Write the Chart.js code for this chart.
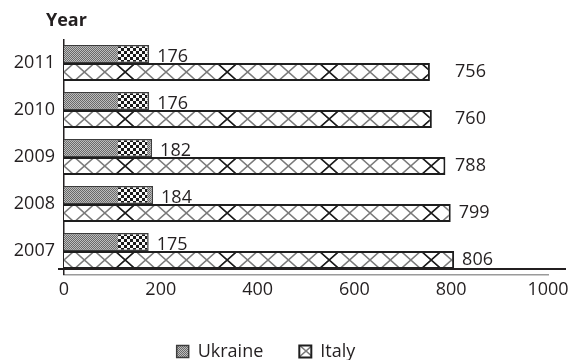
<!DOCTYPE html>
<html>
<head>
<meta charset="utf-8">
<script src="https://cdn.jsdelivr.net/npm/chart.js@4/dist/chart.umd.min.js"></script>
<style>
  html, body { margin: 0; padding: 0; background: #fff; }
  #wrap { width: 576px; height: 360px; }
</style>
</head>
<body>
<div id="wrap"><canvas id="c" width="576" height="360"></canvas></div>
<script>
// Production figures by year (top row first)
const years = ['2011', '2010', '2009', '2008', '2007'];
const ukraine = [176, 176, 182, 184, 175];
const italy = [756, 760, 788, 799, 806];
const xTicks = [0, 200, 400, 600, 800, 1000];
const seriesNames = ['Ukraine', 'Italy'];
const axisTitle = 'Year';

const INK = '#231f20';
const FONT = "'Open Sans', 'Noto Sans', sans-serif";
Chart.defaults.font.family = FONT;
Chart.defaults.color = INK;

const canvas = document.getElementById('c');
const ctx = canvas.getContext('2d');

// Build a small tile canvas for a fill pattern
function makeTile(w, h, draw) {
  const t = document.createElement('canvas');
  t.width = w; t.height = h;
  draw(t.getContext('2d'), w, h);
  return t;
}

const BAR_PX = 18;

// Fine grey mesh with a short black/white checker stretch
const ukraineTile = makeTile(480, BAR_PX, (g, w, h) => {
  const img = g.createImageData(w, h);
  for (let y = 0; y < h; y++) {
    for (let x = 0; x < w; x++) {
      let v;
      if (x >= 54 && x < 83) v = ((((x - 54) / 3) | 0) + ((y / 3) | 0)) % 2 ? 250 : 25;
      else v = (x + y) % 2 ? 190 : 105;
      const o = (y * w + x) * 4;
      img.data[o] = img.data[o + 1] = img.data[o + 2] = v;
      img.data[o + 3] = 255;
    }
  }
  g.putImageData(img, 0, 0);
});

// White ground with a grey diamond lattice and one darker cross per repeat
const italyTile = makeTile(102, BAR_PX, (g, w, h) => {
  g.fillStyle = '#fff';
  g.fillRect(0, 0, w, h);
  const P = w / 5;
  g.strokeStyle = '#7a7a7a';
  g.lineWidth = 1.6;
  for (let k = -1; k <= 6; k++) {
    g.beginPath();
    g.moveTo(k * P - P / 2, 0); g.lineTo(k * P + P / 2, h);
    g.moveTo(k * P + P / 2, 0); g.lineTo(k * P - P / 2, h);
    g.stroke();
  }
  const cx = 3 * P;
  g.strokeStyle = '#1a1a1a';
  g.lineWidth = 1.5;
  g.beginPath();
  g.moveTo(cx - P / 2, 0); g.lineTo(cx + P / 2, h);
  g.moveTo(cx + P / 2, 0); g.lineTo(cx - P / 2, h);
  g.stroke();
});

// One pattern per bar so each can be anchored to its own bar
const ukrPatterns = ukraine.map(() => ctx.createPattern(ukraineTile, 'repeat'));
const itaPatterns = italy.map(() => ctx.createPattern(italyTile, 'repeat'));

const alignPatterns = {
  id: 'alignPatterns',
  beforeDatasetsDraw(chart) {
    const left = Math.round(chart.chartArea.left);
    [ukrPatterns, itaPatterns].forEach((pats, di) => {
      chart.getDatasetMeta(di).data.forEach((bar, i) => {
        const top = Math.round(bar.y - bar.height / 2);
        pats[i].setTransform(new DOMMatrix([1, 0, 0, 1, left, top]));
      });
    });
  }
};

// Nudge the legend row a little to the left of the canvas centre
const legendShift = {
  id: 'legendShift',
  afterLayout(chart) {
    const lg = chart.legend;
    if (lg) { lg.left -= 8; lg.right -= 8; }
  }
};

const valueLabels = {
  id: 'valueLabels',
  afterDatasetsDraw(chart) {
    const g = chart.ctx;
    const xs = chart.scales.x;
    const area = chart.chartArea;
    const column = xs.getPixelForValue(808);
    g.save();
    g.font = '18px ' + FONT;
    g.fillStyle = INK;
    g.textBaseline = 'middle';
    g.textAlign = 'left';
    chart.data.datasets.forEach((ds, di) => {
      chart.getDatasetMeta(di).data.forEach((bar, i) => {
        let x = bar.x + 8;
        let y = bar.y;
        if (di === 0) y += 2.5;
        else x = Math.max(x, column);
        g.fillText(String(ds.data[i]), x, y);
      });
    });
    // dark rule along the foot of the lowest bar
    const italyBars = chart.getDatasetMeta(1).data;
    const last = italyBars[italyBars.length - 1];
    const yRule = last.y + last.height / 2;
    g.strokeStyle = INK;
    g.lineWidth = 2;
    g.beginPath();
    g.moveTo(area.left - 6, yRule);
    g.lineTo(area.right + 18, yRule);
    g.stroke();
    g.restore();
  }
};

const axisHeading = {
  id: 'axisHeading',
  afterDraw(chart) {
    const g = chart.ctx;
    g.save();
    g.font = 'bold 18px ' + FONT;
    g.fillStyle = INK;
    g.textBaseline = 'alphabetic';
    g.textAlign = 'left';
    g.fillText(axisTitle, 46, 26);
    g.restore();
  }
};

new Chart(canvas, {
  type: 'bar',
  data: {
    labels: years,
    datasets: [
      {
        label: seriesNames[0],
        data: ukraine,
        backgroundColor: (c) => ukrPatterns[c.dataIndex] || ukrPatterns[0],
        borderColor: '#3c3c3c',
        borderWidth: 1.5
      },
      {
        label: seriesNames[1],
        data: italy,
        backgroundColor: (c) => itaPatterns[c.dataIndex] || itaPatterns[0],
        borderColor: '#1e1e1e',
        borderWidth: 2
      }
    ]
  },
  options: {
    indexAxis: 'y',
    responsive: false,
    animation: false,
    datasets: { bar: { barPercentage: 1, categoryPercentage: 36 / 47 } },
    layout: { padding: { top: 39.5, right: 28, left: 0, bottom: 0 } },
    scales: {
      x: {
        min: 0,
        max: 1000,
        afterBuildTicks(s) { s.ticks = xTicks.map(v => ({ value: v })); },
        ticks: { padding: 5, color: INK, font: { size: 18 }, maxRotation: 0, callback: (v) => String(v) },
        grid: { display: false, drawTicks: false },
        border: { display: true, color: '#9a9a9a', width: 1.5 },
        afterFit(s) { s.height = 32; }
      },
      y: {
        ticks: { padding: 9, color: INK, font: { size: 18 } },
        grid: { display: false, drawTicks: false },
        border: { display: true, color: INK, width: 1.5 },
        afterFit(s) { s.width = 64; }
      }
    },
    plugins: {
      legend: {
        position: 'bottom',
        maxHeight: 53.5,
        labels: { boxWidth: 12, boxHeight: 12, padding: 36, font: { size: 18 }, color: INK }
      },
      tooltip: { enabled: false }
    }
  },
  plugins: [alignPatterns, legendShift, valueLabels, axisHeading]
});
</script>
</body>
</html>
